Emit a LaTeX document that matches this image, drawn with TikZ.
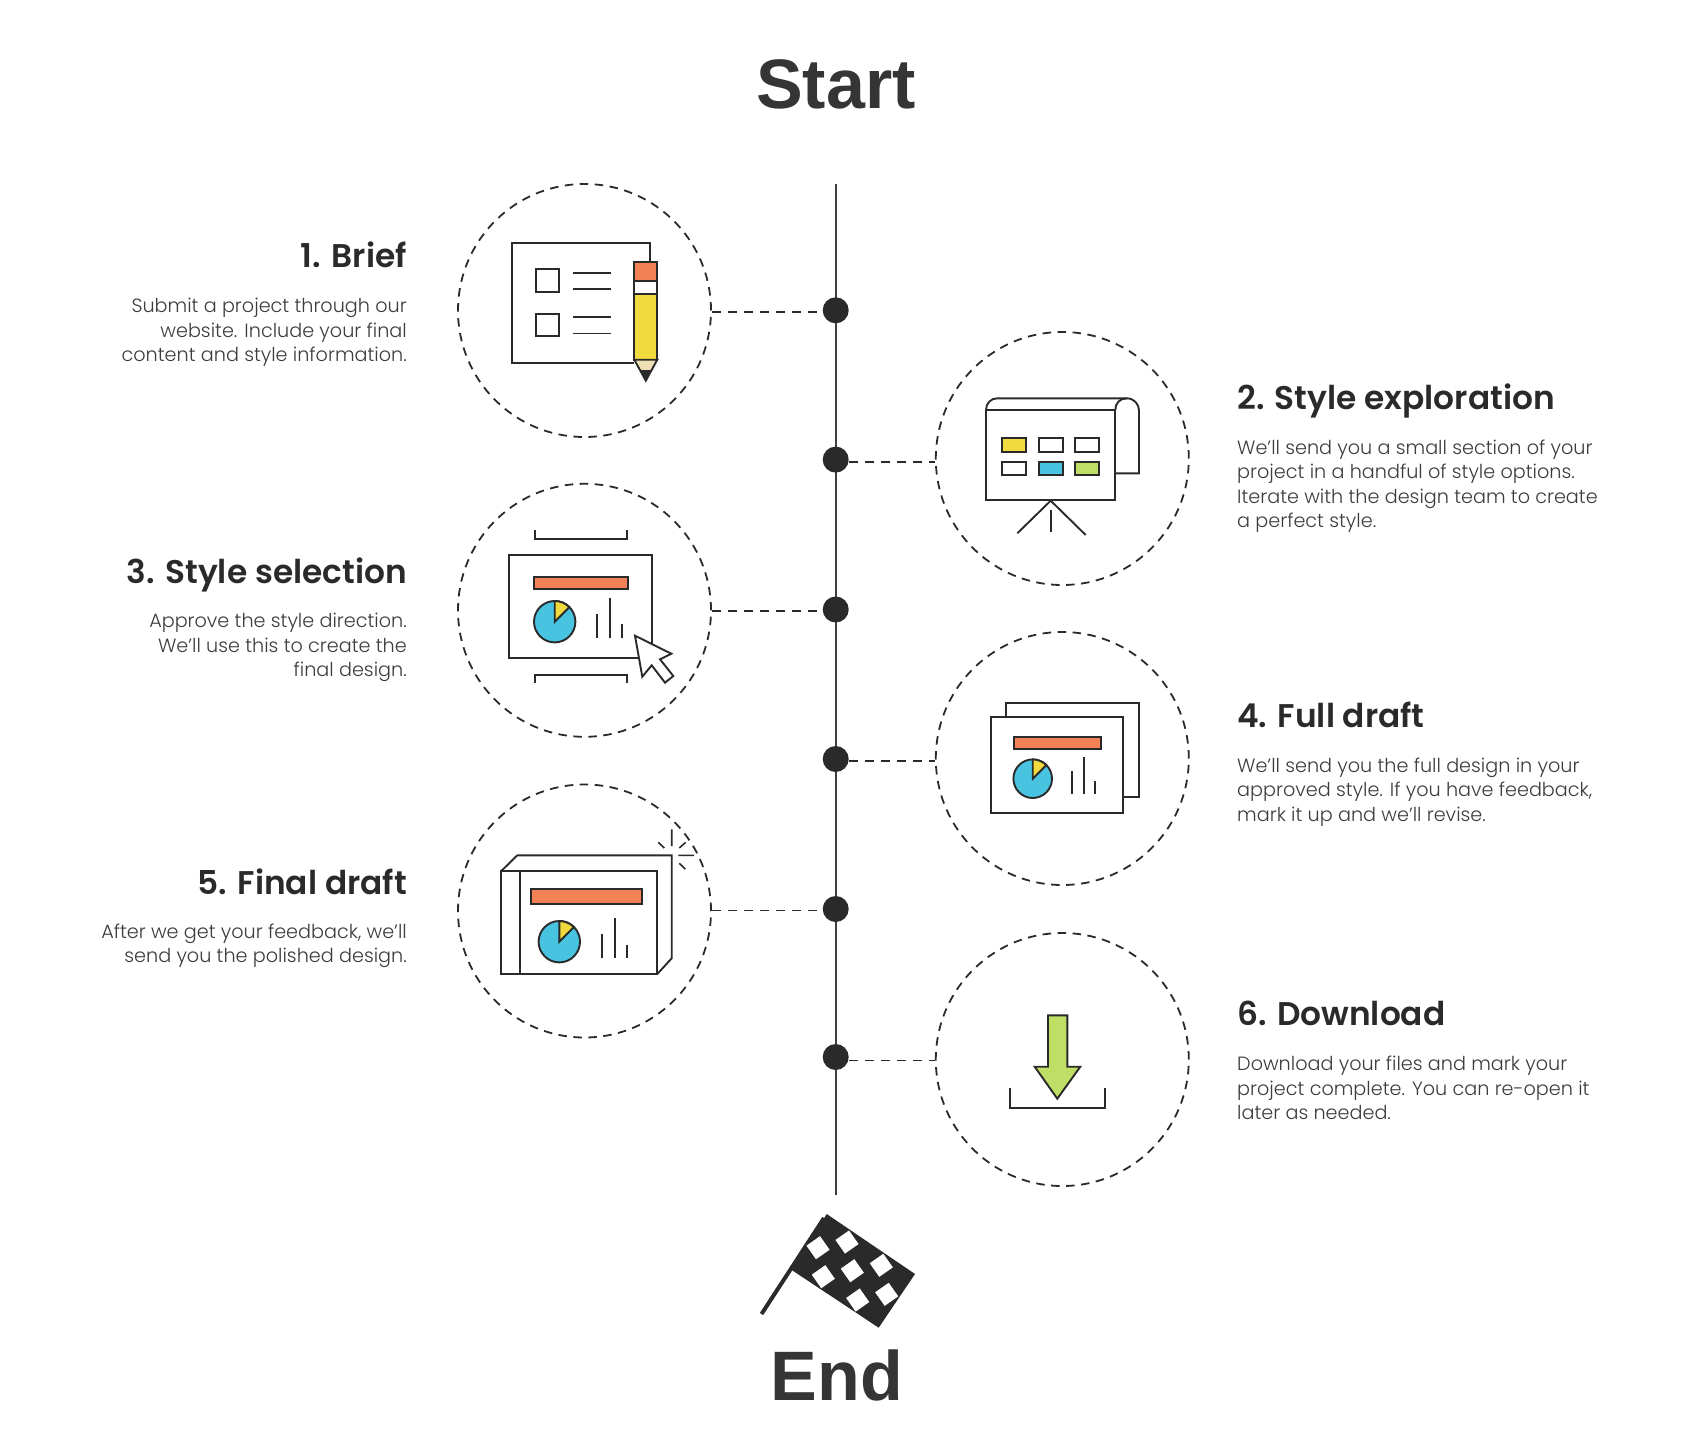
\documentclass[tikz,border=0pt]{standalone}
\usepackage{fontspec}
\setmainfont{Liberation Sans}
\newfontfamily\headfont{Liberation Sans}[BoldFont={Liberation Sans Bold}]
\newfontfamily\titlefont{Poppins SemiBold}
\newfontfamily\bodyfont{Poppins Light}
\definecolor{ink}{HTML}{2A2A2A}
\definecolor{txt}{HTML}{3C3C3C}
\definecolor{org}{HTML}{F28155}
\definecolor{yel}{HTML}{F0DA3E}
\definecolor{blu}{HTML}{48C4E0}
\definecolor{grn}{HTML}{BEDE66}
\definecolor{bei}{HTML}{EEDFB5}
\tikzset{
  icon/.style={draw=ink,line width=1.9pt,line join=miter},
  ring/.style={circle,draw=ink,line width=1.8pt,dash pattern=on 8.5pt off 6.5pt,minimum size=253pt,inner sep=0pt},
  dotnode/.style={circle,fill=ink,minimum size=26pt,inner sep=0pt},
  spine/.style={draw=ink!90,line width=2pt},
  conn/.style={draw=ink,line width=1.7pt,dash pattern=on 9pt off 7pt},
  connthin/.style={draw=ink,line width=1pt,dash pattern=on 9pt off 7pt},
  bighead/.style={font=\headfont\bfseries\fontsize{70}{70}\selectfont,text=ink!95,inner sep=0pt,anchor=base},
  ttl/.style={font=\titlefont\fontsize{32.8}{36}\selectfont,text=ink,inner sep=0pt},
  bodyt/.style={font=\bodyfont\fontsize{19.2}{24.4}\selectfont,text=txt,inner sep=0pt},
  ttlR/.style={ttl,anchor=base east},
  ttlL/.style={ttl,anchor=base west},
  bodyR/.style={bodyt,align=right,anchor=base east},
  bodyL/.style={bodyt,align=left,anchor=base west}
}
\newcommand{\iconpie}[3]{%
  \begin{scope}[shift={(#1,#2)},x=#3pt,y=-#3pt]
    \draw[icon,fill=blu] (0,0) circle[radius=1];
    \draw[icon,fill=yel] (0,0) -- (0,-1) .. controls (.2652,-1) and (.5196,-.8946) .. (.7071,-.7071) -- cycle;
  \end{scope}}
\begin{document}
\begin{tikzpicture}[x=1pt,y=-1pt]
\useasboundingbox (0,0) rectangle (1691,1442);
% headings
\node[bighead] (start) at (836,108.7) {Start};
\node[bighead] (end) at (837,1400.5) {End};
% spine
\coordinate (sTop) at (835.7,184);
\coordinate (sEnd) at (835.7,1195);
\draw[spine] (sTop) -- (sEnd);
% dots and rings
\node[dotnode] (d1) at (835.7,310.3) {};
\node[dotnode] (d2) at (835.7,459.6) {};
\node[dotnode] (d3) at (835.7,609.5) {};
\node[dotnode] (d4) at (835.7,759) {};
\node[dotnode] (d5) at (835.7,909) {};
\node[dotnode] (d6) at (835.7,1057) {};
\node[ring] (c1) at (584.5,310.5) {};
\node[ring] (c2) at (1062.3,458.5) {};
\node[ring] (c3) at (584.5,610.3) {};
\node[ring] (c4) at (1062.3,758.5) {};
\node[ring] (c5) at (584.5,911) {};
\node[ring] (c6) at (1062.3,1059.5) {};
\draw[conn] (c1.east |- 0,312) -- (d1.west |- 0,312);
\draw[conn] (d2.east |- 0,462) -- (c2.west |- 0,462);
\draw[conn] (c3.east |- 0,611) -- (d3.west |- 0,611);
\draw[conn] (d4.east |- 0,761) -- (c4.west |- 0,761);
\draw[connthin] (c5.east |- 0,910) -- (d5.west |- 0,910);
\draw[connthin] (d6.east |- 0,1060) -- (c6.west |- 0,1060);
% texts
\node[ttlR] (t1) at (407,267.7) {1. Brief};
\node[bodyR] (b1) at (407,361.5) {Submit a project through our\\website. Include your final\\content and style information.};
\node[ttlL] (t2) at (1237,409.3) {2. Style exploration};
\node[bodyL] (b2) at (1237,527.5) {We’ll send you a small section of your\\project in a handful of style options.\\Iterate with the design team to create\\a perfect style.};
\node[ttlR] (t3) at (407,583.7) {3. Style selection};
\node[bodyR] (b3) at (407,676.5) {Approve the style direction.\\We’ll use this to create the\\final design.};
\node[ttlL] (t4) at (1237,727.4) {4. Full draft};
\node[bodyL] (b4) at (1237,821) {We’ll send you the full design in your\\approved style. If you have feedback,\\mark it up and we’ll revise.};
\node[ttlR] (t5) at (407,894.2) {5. Final draft};
\node[bodyR] (b5) at (407,962.6) {After we get your feedback, we’ll\\send you the polished design.};
\node[ttlL] (t6) at (1237,1025) {6. Download};
\node[bodyL] (b6) at (1237,1119.5) {Download your files and mark your\\project complete. You can re-open it\\later as needed.};
% icon 1
\draw[icon] (634.3,363) -- (511.7,363) -- (511.7,242.7) -- (649.7,242.7) -- (649.7,261.7);
\draw[icon] (536.3,269.3) rectangle (558.7,291.7);
\draw[icon] (536.3,314) rectangle (558.7,336.3);
\draw[icon,line width=1.6pt] (572.7,273) -- (611,273) (572.7,289) -- (611,289) (572.7,317) -- (611,317) (572.7,333.3) -- (611,333.3);
\draw[icon,fill=org] (634.3,261.7) rectangle (657.3,281);
\draw[icon,fill=white] (634.3,281) rectangle (657.3,293.7);
\draw[icon,fill=yel] (634.3,293.7) rectangle (657.3,359.7);
\draw[icon,fill=bei] (634.3,359.7) -- (657.3,359.7) -- (645.8,380.7) -- cycle;
\fill[ink] (640.6,370) -- (651,370) -- (645.8,380.7) -- cycle;
% icon 2
\draw[icon,fill=white] (986,410) .. controls (986,403) and (991,398.3) .. (997.3,398.3) -- (1126.7,398.3) .. controls (1134,398.3) and (1139,404) .. (1139,410.7) -- (1139,473.3) -- (1115.3,473.3);
\draw[icon] (1115.3,410) .. controls (1115.3,403) and (1120,398.3) .. (1126.7,398.3);
\draw[icon,line width=2.2pt] (986,410) rectangle (1115.3,500);
\draw[icon,fill=yel] (1002.3,438.3) rectangle (1026,451.7);
\draw[icon] (1038.7,438.3) rectangle (1062.7,451.7);
\draw[icon] (1075,438.3) rectangle (1099.3,451.7);
\draw[icon] (1002.3,462.3) rectangle (1026,475.3);
\draw[icon,fill=blu] (1038.7,462.3) rectangle (1062.7,475.3);
\draw[icon,fill=grn] (1075,462.3) rectangle (1099.3,475.3);
\draw[icon] (1017.3,533.3) -- (1050.7,500.7) -- (1085.7,535);
\draw[icon] (1050.7,510) -- (1050.7,531.7);
% icon 3
\draw[icon] (534.7,529.7) -- (534.7,539) -- (627,539) -- (627,529.7);
\draw[icon] (509.3,555.3) rectangle (652.3,658.3);
\draw[icon,fill=org] (534.3,576.7) rectangle (628.3,589);
\iconpie{554.7}{621.7}{20.7}
\draw[icon] (597.3,614.3) -- (597.3,638) (609.7,598.3) -- (609.7,638) (622,624.3) -- (622,638);
\draw[icon] (534.7,683.3) -- (534.7,674.7) -- (627,674.7) -- (627,683.3);
\draw[icon,fill=white] (635,635.7) -- (671.3,653.7) -- (660,659.3) -- (673.3,676) -- (665,682.7) -- (651.7,665.3) -- (642.3,676.7) -- cycle;
% icon 4
\draw[icon] (1006,717.3) -- (1006,702.7) -- (1138.7,702.7) -- (1138.7,797.3) -- (1123.3,797.3);
\draw[icon] (990.7,717.3) rectangle (1123.3,812.7);
\draw[icon,fill=org] (1014,737) rectangle (1101,748.7);
\iconpie{1032.7}{778.7}{19.3}
\draw[icon] (1072.3,771) -- (1072.3,793.7) (1084,756.7) -- (1084,793.7) (1095,781.3) -- (1095,793.7);
% icon 5
\draw[icon] (501,871.3) -- (517.3,855.3) -- (671.7,855.3) -- (671.7,958.3) -- (657,974.3);
\draw[icon] (501,871.3) rectangle (657,974.3);
\draw[icon] (520.3,871.3) -- (520.3,974.3);
\draw[icon,fill=org] (531,888.7) rectangle (642,903.7);
\iconpie{559.3}{941.7}{20.7}
\draw[icon] (602.3,934.3) -- (602.3,958.3) (614.7,918.3) -- (614.7,958.3) (626.7,944.7) -- (626.7,958.3);
\draw[icon,line width=1.6pt] (671.7,829.3) -- (671.7,846) (678.3,855.3) -- (694,855.3) (658.3,842.3) -- (664.3,848) (685.7,842.3) -- (679.3,848) (679.3,863.3) -- (685.3,869);
% icon 6
\draw[icon,fill=grn] (1048,1015.3) -- (1067.3,1015.3) -- (1067.3,1066.7) -- (1080.3,1066.7) -- (1057.3,1098.7) -- (1034.7,1066.7) -- (1048,1066.7) -- cycle;
\draw[icon] (1009.7,1088.3) -- (1009.7,1107.7) -- (1105,1107.7) -- (1105,1088.3);
% flag
\fill[ink] (826.7,1214) -- (915,1274) -- (878.7,1327.7) -- (791.7,1270) -- cycle;
\draw[ink,line width=4pt] (824,1218) -- (761.5,1314);
\foreach \fx/\fy in {818/1247.7,847/1242,852.3/1270.7,881.3/1265.3,823.3/1276.7,857.7/1300,886.7/1294.3}{
  \fill[white,shift={(\fx,\fy)},rotate=35] (-8.3,-8.3) rectangle (8.3,8.3);
}
\end{tikzpicture}
\end{document}
